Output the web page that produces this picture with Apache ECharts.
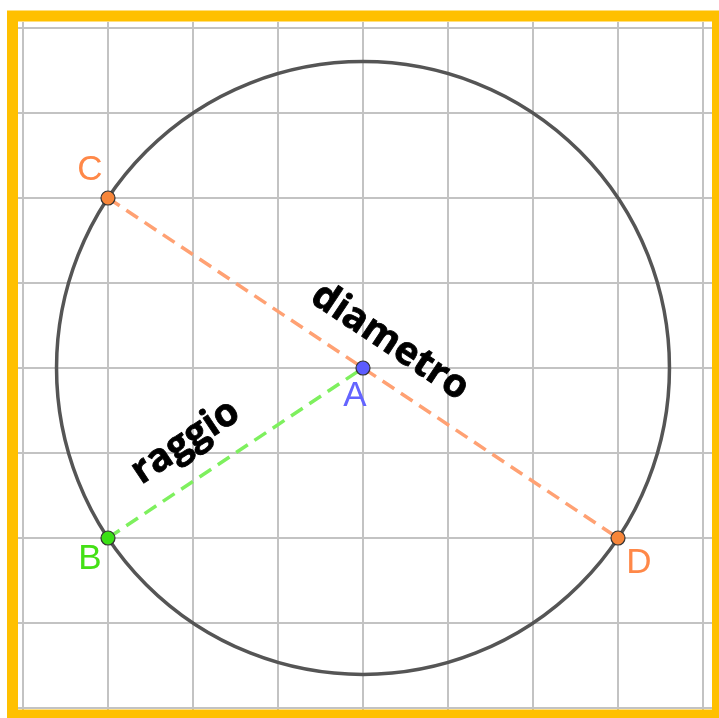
<!DOCTYPE html>
<html>
<head>
<meta charset="utf-8">
<script src="https://cdn.jsdelivr.net/npm/echarts@6/dist/echarts.min.js"></script>
<style>
html,body{margin:0;padding:0;background:#fff;}
#chart{width:719px;height:718px;}
</style>
</head>
<body>
<div id="chart"></div>
<script>
// ---- data ----
const xTicks = [-4, -3, -2, -1, 0, 1, 2, 3, 4];
const yTicks = [-4, -3, -2, -1, 0, 1, 2, 3, 4];
const pointNames = ['A', 'B', 'C', 'D'];
const pointX = [0, -3, -3, 3];
const pointY = [0, -2, 2, -2];
const diameterEnds = ['C', 'D'];
const radiusEnds = ['B', 'A'];
const segmentLabels = ['diametro', 'raggio'];

// ---- helpers ----
function pt(name) { const i = pointNames.indexOf(name); return [pointX[i], pointY[i]]; }
const center = pt('A');
const radius = Math.hypot(pt('B')[0] - center[0], pt('B')[1] - center[1]);

const pointColor = { A: '#5C5CFF', B: '#3AE015', C: '#F7863A', D: '#F7863A' };
const labelColor = { A: '#6464FF', B: '#44E015', C: '#FF8848', D: '#FF8848' };
const labelOffset = { A: [-8, 28], B: [-18, 21], C: [-18, -28], D: [21, 25] };

const chart = echarts.init(document.getElementById('chart'), null, { renderer: 'canvas' });

const option = {
  animation: false,
  backgroundColor: '#ffffff',
  grid: { left: 18, right: 7, top: 22, bottom: 8, containLabel: false },
  xAxis: {
    type: 'value', min: -4.0588, max: 4.1059,
    axisLine: { show: false }, axisTick: { show: false }, axisLabel: { show: false }, splitLine: { show: false }
  },
  yAxis: {
    type: 'value', min: -4.0235, max: 4.0706,
    axisLine: { show: false }, axisTick: { show: false }, axisLabel: { show: false }, splitLine: { show: false }
  },
  series: [
    {
      type: 'line', data: [], z: 1, silent: true,
      markLine: {
        z: 1, silent: true, symbol: ['none', 'none'],
        label: { show: false },
        lineStyle: { color: '#c3c3c3', width: 2, type: 'solid', opacity: 1 },
        emphasis: { disabled: true },
        data: xTicks.map(t => ({ xAxis: t })).concat(yTicks.map(t => ({ yAxis: t })))
      }
    },
    {
      type: 'custom', z: 2, silent: true,
      data: [center],
      renderItem: function (params, api) {
        const c = api.coord([api.value(0), api.value(1)]);
        const r = api.size([radius, 0])[0];
        return {
          type: 'circle',
          shape: { cx: c[0], cy: c[1], r: r },
          style: { fill: 'none', stroke: '#555555', lineWidth: 3.5 }
        };
      }
    },
    {
      type: 'line', z: 3, silent: true, showSymbol: false,
      data: diameterEnds.map(pt),
      lineStyle: { color: '#FFA173', width: 3.5, type: [14, 8], opacity: 1 }
    },
    {
      type: 'line', z: 3, silent: true, showSymbol: false,
      data: radiusEnds.map(pt),
      lineStyle: { color: '#7EF05E', width: 3.5, type: [14, 8], opacity: 1 }
    },
    {
      type: 'scatter', z: 4, silent: true,
      symbolSize: 14,
      data: pointNames.map((n, i) => ({
        name: n,
        value: [pointX[i], pointY[i]],
        itemStyle: { color: pointColor[n], borderColor: '#333333', borderWidth: 1.2, opacity: 1 },
        label: {
          show: true, position: 'inside', formatter: n,
          offset: labelOffset[n], color: labelColor[n], opacity: 1,
          fontFamily: 'Liberation Sans', fontSize: 35
        }
      }))
    }
  ]
};
chart.setOption(option);

// segment labels, rotated along their segments
function segAngle(a, b) {
  const p = chart.convertToPixel({ gridIndex: 0 }, pt(a));
  const q = chart.convertToPixel({ gridIndex: 0 }, pt(b));
  return -Math.atan2(q[1] - p[1], q[0] - p[0]);
}
const aPix = chart.convertToPixel({ gridIndex: 0 }, pt('A'));
const bPix = chart.convertToPixel({ gridIndex: 0 }, pt('B'));
const midBA = [(aPix[0] + bPix[0]) / 2, (aPix[1] + bPix[1]) / 2];

chart.setOption({
  graphic: [
    {
      type: 'text', z: 10, silent: true,
      x: aPix[0] + 27, y: aPix[1] - 26,
      rotation: segAngle('C', 'D'),
      style: {
        text: segmentLabels[0], fill: '#000', align: 'center', verticalAlign: 'middle',
        font: 'bold 39px "Open Sans"', stroke: '#000', lineWidth: 0.8
      }
    },
    {
      type: 'text', z: 10, silent: true,
      x: midBA[0] - 50, y: midBA[1] - 11,
      rotation: segAngle('B', 'A'),
      style: {
        text: segmentLabels[1], fill: '#000', align: 'center', verticalAlign: 'middle',
        font: 'bold 39px "Open Sans"', stroke: '#000', lineWidth: 0.8
      }
    },
    {
      type: 'rect', z: 20, silent: true,
      shape: { x: 12.5, y: 16, width: 705, height: 699 },
      style: { fill: 'none', stroke: '#FFC000', lineWidth: 11 }
    }
  ]
});
</script>
</body>
</html>
